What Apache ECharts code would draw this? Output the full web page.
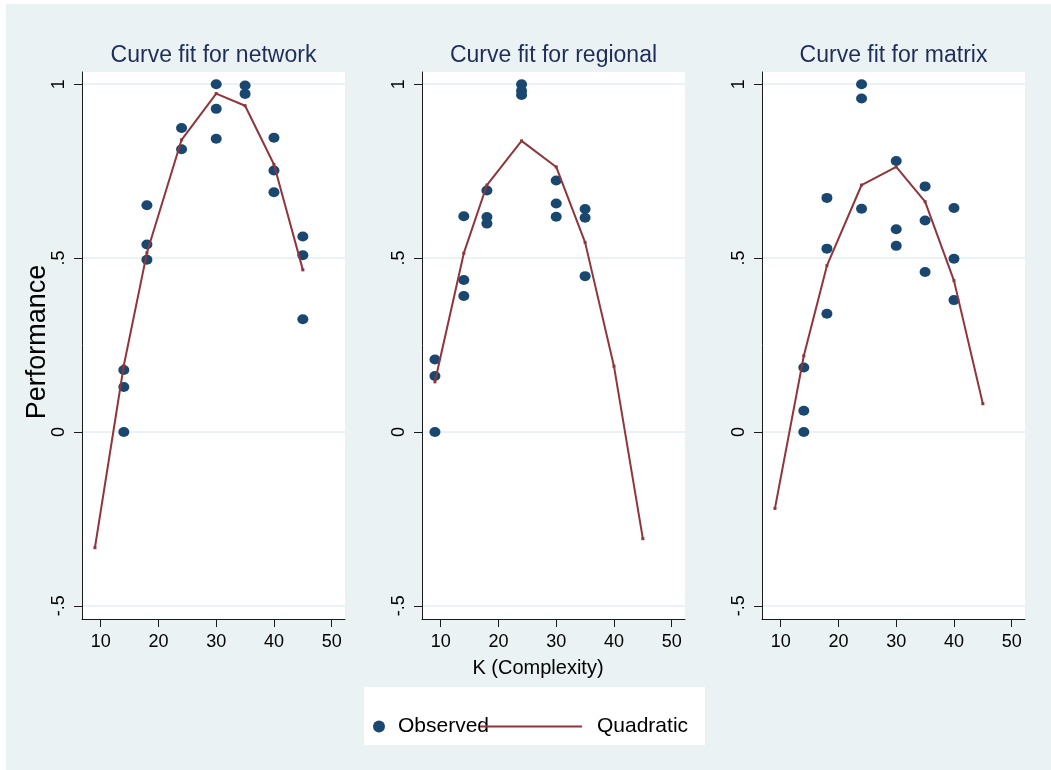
<!DOCTYPE html>
<html>
<head>
<meta charset="utf-8">
<script src="https://cdn.jsdelivr.net/npm/echarts@6/dist/echarts.min.js"></script>
<style>
  html, body { margin: 0; padding: 0; background: #ffffff; }
  #chart { width: 1051px; height: 770px; }
</style>
</head>
<body>
<div id="chart"></div>
<script>
// Panel titles and axis ticks
const panelTitles = ['Curve fit for network', 'Curve fit for regional', 'Curve fit for matrix'];
const kTicks = [10, 20, 30, 40, 50];
const perfTicks = [-0.5, 0, 0.5, 1];
const perfTickText = ['-.5', '0', '.5', '1'];

// Observed performance by K, network structure
const kNetwork    = [14, 14, 14, 18, 18, 18, 24, 24, 30, 30, 30, 35, 35, 40, 40, 40, 45, 45, 45];
const perfNetwork = [0.178, 0.129, 0.000, 0.652, 0.539, 0.495, 0.874, 0.813, 1.000, 0.929, 0.843,
                     0.996, 0.972, 0.846, 0.752, 0.689, 0.562, 0.508, 0.324];

// Observed performance by K, regional structure
const kRegional    = [9, 9, 9, 14, 14, 14, 18, 18, 18, 24, 24, 24, 30, 30, 30, 35, 35, 35];
const perfRegional = [0.208, 0.161, 0.000, 0.620, 0.437, 0.391, 0.694, 0.618, 0.599, 1.000, 0.981, 0.969,
                      0.723, 0.657, 0.619, 0.641, 0.616, 0.448];

// Observed performance by K, matrix structure
const kMatrix    = [14, 14, 14, 18, 18, 18, 24, 24, 24, 30, 30, 30, 35, 35, 35, 40, 40, 40];
const perfMatrix = [0.185, 0.061, 0.000, 0.673, 0.527, 0.340, 1.000, 0.959, 0.642, 0.779, 0.583, 0.535,
                    0.706, 0.608, 0.460, 0.644, 0.498, 0.379];

// Quadratic fitted values
const kFit        = [9, 14, 18, 24, 30, 35, 40, 45];
const fitNetwork  = [-0.333, 0.191, 0.515, 0.840, 0.973, 0.938, 0.769, 0.466];
const fitRegional = [0.144, 0.514, 0.710, 0.837, 0.762, 0.545, 0.189, -0.307];
const fitMatrix   = [-0.220, 0.219, 0.478, 0.710, 0.762, 0.662, 0.435, 0.081];

const observedSets = [[kNetwork, perfNetwork], [kRegional, perfRegional], [kMatrix, perfMatrix]];
const fitSets = [fitNetwork, fitRegional, fitMatrix];

const FONT = "'Liberation Sans', Arial, Helvetica, sans-serif";
const AXIS_COLOR = '#1a1a1a';
const GRID_LINE = '#e4eef0';
const MARKER = '#1a476f';
const FIT_LINE = '#90353b';

const panelLeft = [82, 422, 762];
const panelWidth = 263;
const panelTop = 72;
const panelHeight = 547;

const pairs = (xs, ys) => xs.map((x, i) => [x, ys[i]]);

const option = {
  backgroundColor: '#eaf2f3',
  animation: false,
  textStyle: { fontFamily: FONT },
  title: panelTitles.map((t, i) => ({
    text: t,
    left: panelLeft[i] + panelWidth / 2,
    textAlign: 'center',
    top: 44,
    padding: 0,
    textStyle: { fontSize: 23, fontWeight: 'normal', color: '#1f2d5a', fontFamily: FONT }
  })),
  grid: panelLeft.map(l => ({
    left: l, top: panelTop, width: panelWidth, height: panelHeight,
    show: true, backgroundColor: '#ffffff', borderWidth: 0, containLabel: false
  })),
  xAxis: panelLeft.map((_, i) => ({
    type: 'value', gridIndex: i, min: 6.76, max: 52.3,
    axisLine: { show: true, onZero: false, lineStyle: { color: AXIS_COLOR, width: 1 } },
    axisTick: { show: true, length: 8, customValues: kTicks, lineStyle: { color: AXIS_COLOR, width: 1 } },
    axisLabel: { customValues: kTicks, margin: 14, fontSize: 18, color: '#000', fontFamily: FONT },
    splitLine: { show: false }
  })),
  yAxis: panelLeft.map((_, i) => ({
    type: 'value', gridIndex: i, min: -0.538, max: 1.035,
    axisLine: { show: true, onZero: false, lineStyle: { color: AXIS_COLOR, width: 1 } },
    axisTick: { show: true, length: 8, customValues: perfTicks, lineStyle: { color: AXIS_COLOR, width: 1 } },
    axisLabel: {
      customValues: perfTicks, rotate: 90, margin: 14, fontSize: 18, color: '#000', fontFamily: FONT,
      formatter: v => {
        const j = perfTicks.findIndex(t => Math.abs(t - v) < 1e-9);
        return j >= 0 ? perfTickText[j] : String(v);
      }
    },
    splitLine: { show: true, lineStyle: { color: GRID_LINE, width: 1.5 } }
  })),
  legend: [
    {
      data: [{ name: 'Observed', icon: 'circle' }],
      left: 373, top: 716, padding: 0,
      itemWidth: 12, itemHeight: 12,
      selectedMode: false,
      textStyle: { fontSize: 21, color: '#000', fontFamily: FONT, padding: [5, 0, 0, 8] }
    },
    {
      data: [{ name: 'Quadratic', icon: 'rect' }],
      left: 480, top: 716, padding: 0,
      itemWidth: 102, itemHeight: 2, symbolKeepAspect: false,
      selectedMode: false,
      textStyle: { fontSize: 21, color: '#000', fontFamily: FONT, padding: [0, 0, 0, 10] }
    }
  ],
  graphic: [
    { type: 'rect', left: 0, top: 0, shape: { width: 1051, height: 4 }, style: { fill: '#ffffff' }, silent: true },
    { type: 'rect', left: 0, top: 0, shape: { width: 6, height: 770 }, style: { fill: '#ffffff' }, silent: true },
    { type: 'rect', left: 364, top: 687, shape: { width: 341, height: 58 }, style: { fill: '#ffffff' }, z: -1, silent: true },
    {
      type: 'text', x: 538, y: 668, silent: true,
      style: { text: 'K (Complexity)', fontSize: 20, fontFamily: FONT, fill: '#000', textAlign: 'center', textVerticalAlign: 'middle' }
    },
    {
      type: 'text', x: 38, y: 342, rotation: Math.PI / 2, silent: true,
      style: { text: 'Performance', fontSize: 27, fontFamily: FONT, fill: '#000', textAlign: 'center', textVerticalAlign: 'middle' }
    }
  ],
  series: []
};

observedSets.forEach(([xs, ys], i) => {
  option.series.push({
    name: 'Observed', type: 'scatter', xAxisIndex: i, yAxisIndex: i,
    data: pairs(xs, ys), symbol: 'circle', symbolSize: [11, 10],
    itemStyle: { color: MARKER, opacity: 1 }, z: 2
  });
});
fitSets.forEach((ys, i) => {
  option.series.push({
    name: 'Quadratic', type: 'line', xAxisIndex: i, yAxisIndex: i,
    data: pairs(kFit, ys), symbol: 'rect', symbolSize: 3, showSymbol: true,
    color: FIT_LINE,
    lineStyle: { color: FIT_LINE, width: 2 },
    itemStyle: { color: FIT_LINE }, z: 3
  });
});

const chart = echarts.init(document.getElementById('chart'), null, { renderer: 'canvas' });
chart.setOption(option);
</script>
</body>
</html>
